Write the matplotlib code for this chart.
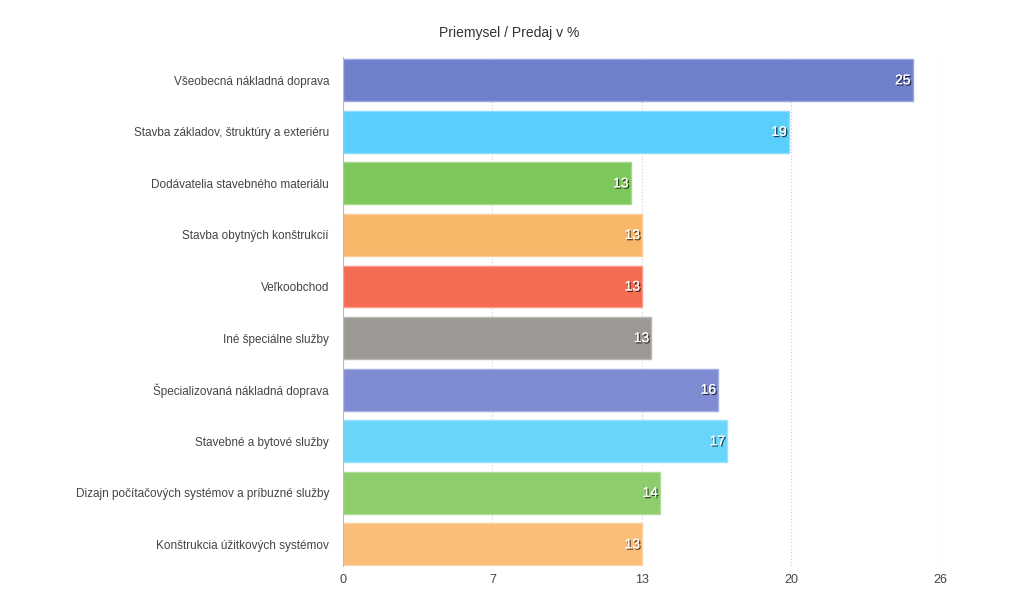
import matplotlib.pyplot as plt
import matplotlib.patheffects as pe
import matplotlib.colors as mcolors
import numpy as np

categories = [
    'Všeobecná nákladná doprava',
    'Stavba základov, štruktúry a exteriéru',
    'Dodávatelia stavebného materiálu',
    'Stavba obytných konštrukcií',
    'Veľkoobchod',
    'Iné špeciálne služby',
    'Špecializovaná nákladná doprava',
    'Stavebné a bytové služby',
    'Dizajn počítačových systémov a príbuzné služby',
    'Konštrukcia úžitkových systémov',
]
values = [24.8, 19.4, 12.52, 13.02, 13.02, 13.42, 16.33, 16.72, 13.8, 13.02]
colors = ['#6f7fcb', '#5bcffb', '#7ec75a', '#f9b76a', '#f66c53',
          '#9c9893', '#7f8bd2', '#6ad5fb', '#8ecd6c', '#fbbe79']
ticks = [0, 6.5, 13, 19.5, 26]
tick_labels = ['0', '7', '13', '20', '26']

plt.rcParams['font.family'] = ['Liberation Sans', 'DejaVu Sans']

fig = plt.figure(figsize=(10.24, 6.14), dpi=100)
ax = fig.add_axes([343 / 1024, 1 - 566 / 614, (940.5 - 343) / 1024, (566 - 57) / 614])

y = np.arange(len(categories))
edge = [mcolors.to_rgb(c) for c in colors]
edge = [tuple(0.7 * np.array(c) + 0.3) for c in edge]
ax.barh(y, values, height=0.81, color=colors, edgecolor=edge, linewidth=1, zorder=2)

for yi, v in zip(y, values):
    ax.text(v - 0.1, yi, f'{v:.0f}', ha='right', va='center', color='white',
            fontsize=10, zorder=3,
            path_effects=[pe.withSimplePatchShadow(offset=(1, -1), shadow_rgbFace='black', alpha=0.7),
                          pe.Normal()])

ax.set_xlim(0, 26)
ax.set_ylim(9.42, -0.45)
ax.set_xticks(ticks)
ax.set_xticklabels(tick_labels)
ax.set_yticks(y)
ax.set_yticklabels(categories)
ax.tick_params(axis='both', length=0, colors='#444444')
ax.tick_params(axis='y', pad=10, labelsize=8.5)
ax.tick_params(axis='x', pad=6, labelsize=9)
ax.grid(axis='x', color='#cccccc', linestyle=(0, (1, 2)), linewidth=0.8, zorder=0)
for s in ['top', 'right', 'bottom']:
    ax.spines[s].set_visible(False)
ax.spines['left'].set_color('#bbbbbb')
ax.spines['left'].set_zorder(3)

fig.text(0.497, 1 - 33 / 614, 'Priemysel / Predaj v %', ha='center', va='center',
         fontsize=10, color='#333333')

plt.savefig('out.png', dpi=100)
